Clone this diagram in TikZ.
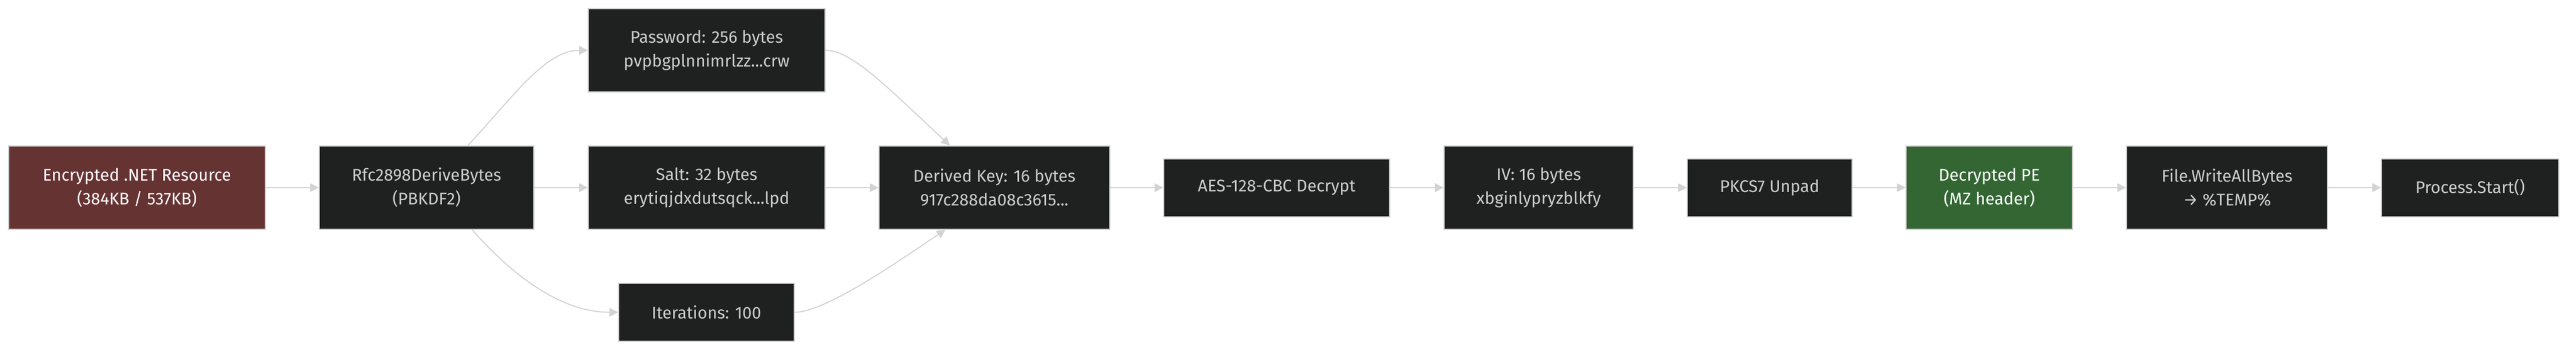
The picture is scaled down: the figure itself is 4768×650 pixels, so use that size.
\documentclass[tikz,border=0pt]{standalone}
\usepackage{fontspec}
\setmainfont{Fira Sans}
\usetikzlibrary{arrows.meta,calc}
\definecolor{boxfill}{HTML}{1F2020}
\definecolor{boxline}{HTML}{CCCCCC}
\definecolor{boxtext}{HTML}{CCCCCC}
\definecolor{redfill}{HTML}{663333}
\definecolor{greenfill}{HTML}{336633}
\definecolor{edgecol}{HTML}{D3D3D3}
\begin{document}
\begin{tikzpicture}[x=0.5pt,y=-0.5pt,
  box/.style={draw=boxline,line width=1pt,fill=boxfill,text=boxtext,inner sep=0pt,
    align=center,font=\fontsize{15.6pt}{22pt}\selectfont,minimum height=77pt},
  lowbox/.style={box,minimum height=53.5pt},
  redbox/.style={box,fill=redfill,text=white},
  greenbox/.style={box,fill=greenfill,text=white},
  flow/.style={draw=edgecol,line width=1pt,-{Triangle[length=8pt,width=8pt]}},
]
\useasboundingbox[fill=white] (0,0) rectangle (4768,650);
\node[redbox,minimum width=237.5pt] (enc) at (253.5,347) {Encrypted .NET Resource\\(384KB / 537KB)};
\node[box,minimum width=198.5pt] (rfc) at (789.5,347) {Rfc2898DeriveBytes\\(PBKDF2)};
\node[box,minimum width=219pt] (pwd) at (1308,93) {Password: 256 bytes\\pvpbgplnnimrlzz...crw};
\node[box,minimum width=219pt] (salt) at (1308,347) {Salt: 32 bytes\\erytiqjdxdutsqck...lpd};
\node[lowbox,minimum width=162.5pt] (iter) at (1307.5,577.5) {Iterations: 100};
\node[box,minimum width=213.5pt] (key) at (1840.5,347) {Derived Key: 16 bytes\\917c288da08c3615...};
\node[lowbox,minimum width=209pt] (aes) at (2363,347) {AES-128-CBC Decrypt};
\node[box,minimum width=175pt] (iv) at (2848,347) {IV: 16 bytes\\xbginlypryzblkfy};
\node[lowbox,minimum width=152.5pt] (pkcs) at (3275.5,347) {PKCS7 Unpad};
\node[greenbox,minimum width=154pt] (pe) at (3682,347) {Decrypted PE\\(MZ header)};
\node[box,minimum width=186pt] (file) at (4122,347) {File.WriteAllBytes\\→ \%TEMP\%};
\node[lowbox,minimum width=164pt] (proc) at (4572,347) {Process.Start()};

\draw[flow] (enc) -- (rfc);
\draw[flow] (rfc) -- (salt);
\draw[flow] (salt) -- (key);
\draw[flow] ($(rfc.north)+(76.5,0)$) .. controls ($(rfc.north)+(160.5,-90)$) and ($(pwd.west)+(-79,0)$) .. (pwd.west);
\draw[flow] ($(rfc.south)+(84.5,0)$) .. controls ($(rfc.south)+(160.5,86)$) and ($(iter.west)+(-105,0)$) .. (iter.west);
\draw[flow] (pwd.east) .. controls ($(pwd.east)+(48,0)$) and ($(key.north)+(-200.5,-110)$) .. ($(key.north)+(-82.5,0)$);
\draw[flow] (iter.east) .. controls ($(iter.east)+(60,0)$) and ($(key.south)+(-160.5,46)$) .. ($(key.south)+(-90.5,0)$);
\draw[flow] (key) -- (aes);
\draw[flow] (aes) -- (iv);
\draw[flow] (iv) -- (pkcs);
\draw[flow] (pkcs) -- (pe);
\draw[flow] (pe) -- (file);
\draw[flow] (file) -- (proc);
\end{tikzpicture}
\end{document}
